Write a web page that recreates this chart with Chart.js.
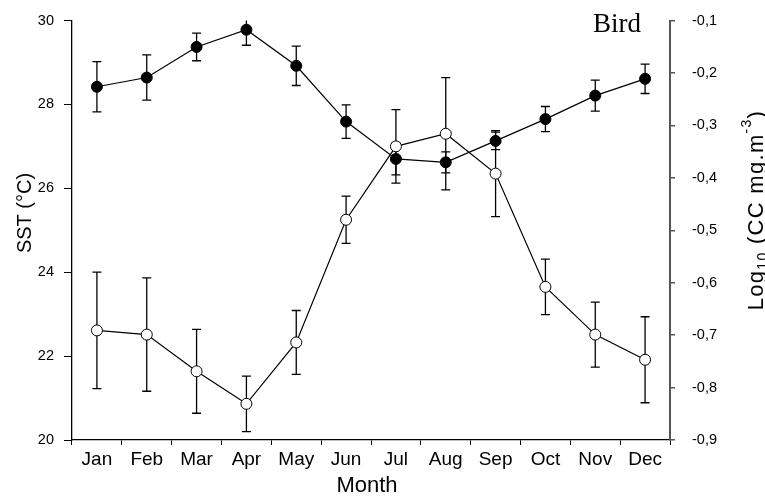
<!DOCTYPE html>
<html>
<head>
<meta charset="utf-8">
<script src="https://cdn.jsdelivr.net/npm/chart.js"></script>
<style>
  body { margin: 0; background: #fff; }
  canvas { display: block; }
</style>
</head>
<body>
<canvas id="sstChart" width="765" height="497"></canvas>
<script>
const months = ['Jan', 'Feb', 'Mar', 'Apr', 'May', 'Jun', 'Jul', 'Aug', 'Sep', 'Oct', 'Nov', 'Dec'];

// SST (°C), left axis, filled circles
const sst = [28.42, 28.64, 29.37, 29.78, 28.92, 27.59, 26.70, 26.62, 27.13, 27.65, 28.21, 28.61];
const sstErr = [0.60, 0.54, 0.33, 0.37, 0.47, 0.40, 0.38, 0.25, 0.21, 0.30, 0.37, 0.35];

// Log10 CC, right axis, open circles
const logCC = [-0.691, -0.699, -0.769, -0.831, -0.714, -0.480, -0.340, -0.316, -0.392, -0.608, -0.699, -0.747];
const logCCErr = [0.111, 0.108, 0.080, 0.053, 0.061, 0.045, 0.070, 0.107, 0.082, 0.053, 0.062, 0.082];

const FONT = "'Liberation Sans', Arial, sans-serif";

// error bars, drawn under the markers
const errorBars = {
  id: 'errorBars',
  beforeDatasetsDraw(chart) {
    const { ctx, chartArea } = chart;
    ctx.save();
    ctx.beginPath();
    ctx.rect(chartArea.left, chartArea.top, chartArea.right - chartArea.left, chartArea.bottom - chartArea.top);
    ctx.clip();
    ctx.strokeStyle = '#000';
    ctx.lineWidth = 1.3;
    chart.data.datasets.forEach((ds, i) => {
      const yScale = chart.scales[ds.yAxisID];
      const meta = chart.getDatasetMeta(i);
      ds.data.forEach((v, j) => {
        const x = meta.data[j].x;
        const yTop = yScale.getPixelForValue(v + ds.errors[j]);
        const yBot = yScale.getPixelForValue(v - ds.errors[j]);
        ctx.beginPath();
        ctx.moveTo(x, yTop); ctx.lineTo(x, yBot);
        ctx.moveTo(x - 4.5, yTop); ctx.lineTo(x + 4.5, yTop);
        ctx.moveTo(x - 4.5, yBot); ctx.lineTo(x + 4.5, yBot);
        ctx.stroke();
      });
    });
    ctx.restore();
  }
};

// axis titles and the panel label
const titles = {
  id: 'titles',
  afterDraw(chart) {
    const ctx = chart.ctx;
    ctx.save();
    ctx.fillStyle = '#000';

    ctx.font = '22px ' + FONT;
    ctx.textAlign = 'center';
    ctx.textBaseline = 'alphabetic';
    ctx.fillText('Month', 367, 492);

    ctx.save();
    ctx.translate(25, 213);
    ctx.rotate(-Math.PI / 2);
    ctx.font = '20px ' + FONT;
    ctx.textBaseline = 'middle';
    ctx.fillText('SST (°C)', 0, 0);
    ctx.restore();

    const parts = [
      { t: 'Log', size: 22, dy: 0 },
      { t: '10', size: 14, dy: 6 },
      { t: ' (CC mg.m', size: 22, dy: 0 },
      { t: '-3', size: 14, dy: -10 },
      { t: ')', size: 22, dy: 0 }
    ];
    ctx.save();
    if ('letterSpacing' in ctx) ctx.letterSpacing = '1.3px';
    let total = 0;
    parts.forEach(p => {
      ctx.font = p.size + 'px ' + FONT;
      p.w = ctx.measureText(p.t).width;
      total += p.w;
    });
    ctx.translate(757, 210);
    ctx.rotate(-Math.PI / 2);
    ctx.textAlign = 'left';
    ctx.textBaseline = 'middle';
    let px = -total / 2;
    parts.forEach(p => {
      ctx.font = p.size + 'px ' + FONT;
      ctx.fillText(p.t, px, p.dy);
      px += p.w;
    });
    ctx.restore();

    ctx.font = "27px 'Liberation Serif', 'Times New Roman', serif";
    ctx.textAlign = 'left';
    ctx.textBaseline = 'alphabetic';
    ctx.fillText('Bird', 593, 32);
    ctx.restore();
  }
};

const data = {
  labels: months,
  datasets: [
    {
      label: 'SST',
      data: sst,
      errors: sstErr,
      yAxisID: 'y',
      borderColor: '#000',
      borderWidth: 1.2,
      pointRadius: 5.5,
      pointBorderWidth: 1,
      pointBackgroundColor: '#000',
      pointBorderColor: '#000',
      tension: 0
    },
    {
      label: 'Log10 CC',
      data: logCC,
      errors: logCCErr,
      yAxisID: 'y1',
      borderColor: '#000',
      borderWidth: 1.2,
      pointRadius: 5.5,
      pointBorderWidth: 1,
      pointBackgroundColor: '#fff',
      pointBorderColor: '#000',
      tension: 0
    }
  ]
};

// keep the vertical scales from pushing the plot area down
function fixVertical(width) {
  return scale => {
    scale.width = width;
    scale.paddingTop = 8;
    scale.paddingBottom = 8;
  };
}

const config = {
  type: 'line',
  data: data,
  options: {
    responsive: false,
    animation: false,
    layout: { padding: { top: 20.5, right: 0, bottom: 0, left: 0 } },
    plugins: {
      legend: { display: false },
      tooltip: { enabled: false }
    },
    scales: {
      x: {
        offset: true,
        grid: { offset: true, drawOnChartArea: false, tickLength: 5, color: '#000', lineWidth: 1 },
        border: { display: true, color: '#000', width: 1.3 },
        ticks: { color: '#000', font: { family: FONT, size: 19 }, padding: 3, maxRotation: 0, autoSkip: false },
        afterFit(scale) { scale.height = 57; }
      },
      y: {
        position: 'left',
        min: 20,
        max: 30,
        grid: { drawOnChartArea: false, tickLength: 8, color: '#000', lineWidth: 1 },
        border: { display: true, color: '#000', width: 1.3 },
        ticks: { stepSize: 2, color: '#000', font: { family: FONT, size: 14.5 }, padding: 10 },
        afterFit: fixVertical(72)
      },
      y1: {
        position: 'right',
        min: -0.9,
        max: -0.1,
        grid: { drawOnChartArea: false, tickLength: 5, color: '#555', lineWidth: 1.5 },
        border: { display: true, color: '#555', width: 2 },
        ticks: {
          stepSize: 0.1,
          color: '#000',
          font: { family: FONT, size: 14.5 },
          padding: 17,
          callback: v => v.toFixed(1).replace('.', ',')
        },
        afterFit: fixVertical(95)
      }
    }
  },
  plugins: [errorBars, titles]
};

//eslint-disable-next-line
const sstChart = new Chart(document.getElementById('sstChart'), config);
</script>
</body>
</html>
